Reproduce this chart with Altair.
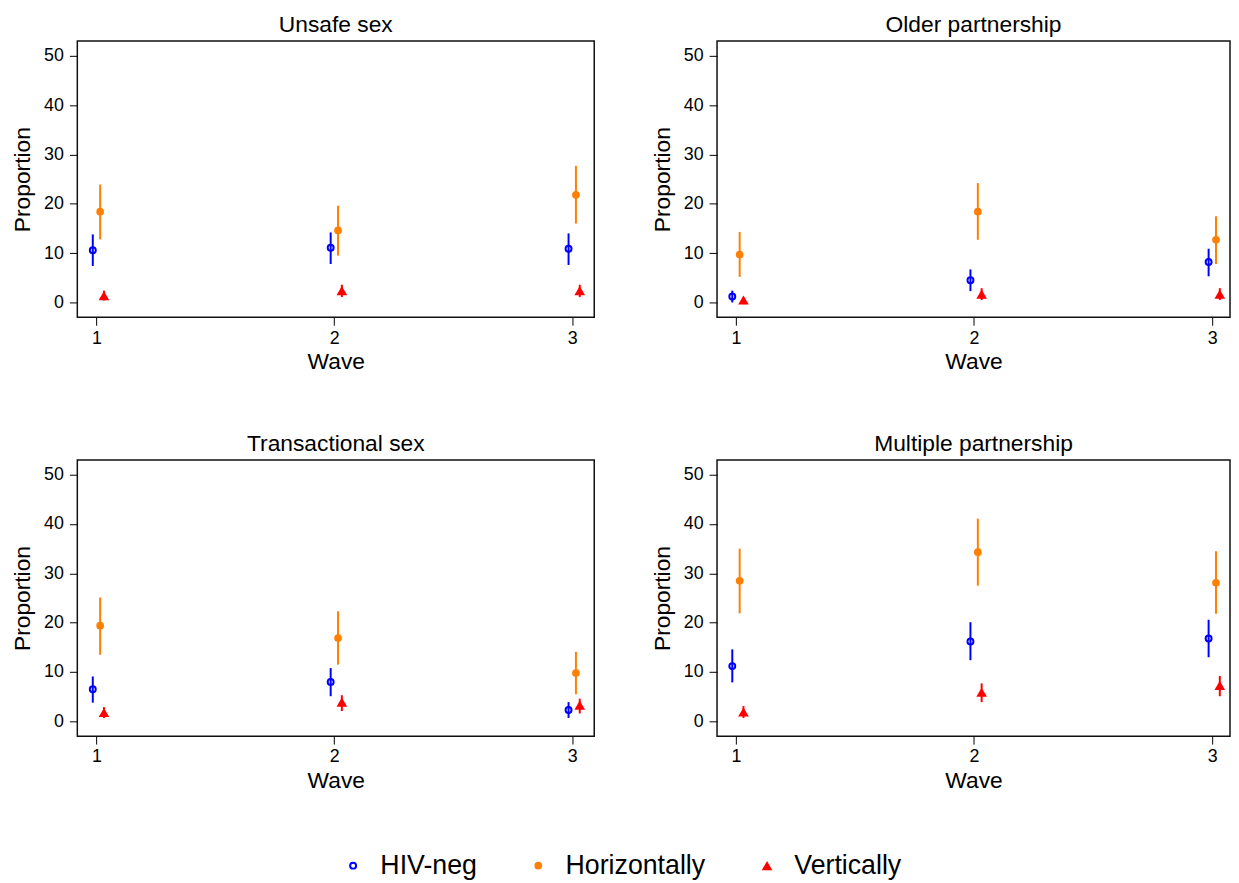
import altair as alt
import pandas as pd

panels = ["Unsafe sex", "Older partnership", "Transactional sex", "Multiple partnership"]
groups = ["HIV-neg", "Horizontally", "Vertically"]
waves = [1, 2, 3]

# Unsafe sex
unsafe_hiv_est = [10.6, 11.1, 10.9]
unsafe_hiv_lo = [7.4, 7.8, 7.6]
unsafe_hiv_hi = [13.8, 14.2, 14.0]
unsafe_hor_est = [18.4, 14.6, 21.8]
unsafe_hor_lo = [12.8, 9.5, 16.0]
unsafe_hor_hi = [23.9, 19.6, 27.7]
unsafe_ver_est = [1.4, 2.4, 2.4]
unsafe_ver_lo = [0.4, 1.1, 1.1]
unsafe_ver_hi = [2.4, 3.6, 3.6]

# Older partnership
older_hiv_est = [1.2, 4.5, 8.2]
older_hiv_lo = [0.0, 2.3, 5.3]
older_hiv_hi = [2.4, 6.7, 10.9]
older_hor_est = [9.7, 18.4, 12.7]
older_hor_lo = [5.2, 12.7, 7.8]
older_hor_hi = [14.3, 24.2, 17.5]
older_ver_est = [0.5, 1.7, 1.7]
older_ver_lo = [0.1, 0.5, 0.5]
older_ver_hi = [1.0, 2.9, 2.9]

# Transactional sex
trans_hiv_est = [6.5, 8.0, 2.3]
trans_hiv_lo = [3.8, 5.1, 0.7]
trans_hiv_hi = [9.1, 10.8, 3.9]
trans_hor_est = [19.4, 16.9, 9.8]
trans_hor_lo = [13.5, 11.5, 5.5]
trans_hor_hi = [25.1, 22.3, 14.1]
trans_ver_est = [1.8, 3.9, 3.3]
trans_ver_lo = [0.7, 2.1, 1.6]
trans_ver_hi = [2.9, 5.3, 4.6]

# Multiple partnership
multi_hiv_est = [11.2, 16.2, 16.8]
multi_hiv_lo = [7.9, 12.4, 13.0]
multi_hiv_hi = [14.6, 20.1, 20.6]
multi_hor_est = [28.5, 34.3, 28.1]
multi_hor_lo = [21.9, 27.5, 21.8]
multi_hor_hi = [35.0, 41.1, 34.5]
multi_ver_est = [1.9, 5.9, 7.3]
multi_ver_lo = [0.7, 3.9, 5.1]
multi_ver_hi = [3.1, 7.7, 9.2]

series = {
    "Unsafe sex": [
        (unsafe_hiv_est, unsafe_hiv_lo, unsafe_hiv_hi),
        (unsafe_hor_est, unsafe_hor_lo, unsafe_hor_hi),
        (unsafe_ver_est, unsafe_ver_lo, unsafe_ver_hi),
    ],
    "Older partnership": [
        (older_hiv_est, older_hiv_lo, older_hiv_hi),
        (older_hor_est, older_hor_lo, older_hor_hi),
        (older_ver_est, older_ver_lo, older_ver_hi),
    ],
    "Transactional sex": [
        (trans_hiv_est, trans_hiv_lo, trans_hiv_hi),
        (trans_hor_est, trans_hor_lo, trans_hor_hi),
        (trans_ver_est, trans_ver_lo, trans_ver_hi),
    ],
    "Multiple partnership": [
        (multi_hiv_est, multi_hiv_lo, multi_hiv_hi),
        (multi_hor_est, multi_hor_lo, multi_hor_hi),
        (multi_ver_est, multi_ver_lo, multi_ver_hi),
    ],
}

rows = []
for p in panels:
    for g, (est, lo, hi) in zip(groups, series[p]):
        for i, w in enumerate(waves):
            rows.append({"panel": p, "group": g, "wave": w,
                         "est": est[i], "lo": lo[i], "hi": hi[i]})
df = pd.DataFrame(rows)

colors = ["#0000ff", "#ff7f00", "#ff0000"]
fills = ["transparent", "#ff7f00", "#ff0000"]
shapes = ["circle", "circle", "triangle-up"]
FONT = "Liberation Sans"

legend = alt.Legend(orient="none", legendX=265, legendY=819, direction="horizontal", title=None)


def panel(name, width, xdom):
    base = alt.Chart(df).transform_filter(alt.datum.panel == name).transform_calculate(
        xpos="datum.wave + (datum.group == 'HIV-neg' ? -0.015 : (datum.group == 'Horizontally' ? 0.016 : 0.032))"
    )
    xenc = alt.X("xpos:Q", scale=alt.Scale(domain=xdom, nice=False, zero=False),
                 axis=alt.Axis(values=waves, format="d", title="Wave", titlePadding=4))
    yscale = alt.Scale(domain=[-3, 53], nice=False, zero=False)
    yaxis = alt.Axis(values=[0, 10, 20, 30, 40, 50], title="Proportion",
                     labelPadding=6, titlePadding=9)
    rules = base.mark_rule(strokeWidth=2).encode(
        x=xenc,
        y=alt.Y("lo:Q", scale=yscale, axis=yaxis),
        y2="hi:Q",
        stroke=alt.Stroke("group:N", scale=alt.Scale(domain=groups, range=colors), legend=legend),
    )
    points = base.mark_point(opacity=1).encode(
        x=xenc,
        y=alt.Y("est:Q", scale=yscale, axis=yaxis),
        stroke=alt.Stroke("group:N", scale=alt.Scale(domain=groups, range=colors), legend=legend),
        fill=alt.Fill("group:N", scale=alt.Scale(domain=groups, range=fills), legend=legend),
        shape=alt.Shape("group:N", scale=alt.Scale(domain=groups, range=shapes), legend=legend),
        size=alt.Size("group:N", scale=alt.Scale(type="ordinal", domain=groups, range=[36, 60, 115]),
                      legend=None),
        strokeWidth=alt.StrokeWidth("group:N", scale=alt.Scale(type="ordinal", domain=groups, range=[2, 0, 0]),
                                    legend=None),
    )
    return alt.layer(rules, points).properties(
        width=width, height=279,
        title=alt.TitleParams(name, fontSize=23, fontWeight="normal", font=FONT, color="black", offset=4),
    )


left_dom = [0.92, 3.093]
right_w = 518
right_dom = [0.921, 0.921 + right_w / 240.5]

top = alt.hconcat(panel(panels[0], 522, left_dom), panel(panels[1], right_w, right_dom), spacing=56)
bottom = alt.hconcat(panel(panels[2], 522, left_dom), panel(panels[3], right_w, right_dom), spacing=56)

chart = alt.vconcat(top, bottom, spacing=58).properties(
    padding={"left": 3, "top": 1, "right": 0, "bottom": 5},
    background="white",
).configure_view(
    stroke="#111111", strokeWidth=1.5
).configure_axis(
    grid=False, domain=False, tickColor="black", tickSize=8, tickWidth=1,
    labelFont=FONT, labelFontSize=18, labelColor="black", labelPadding=4,
    titleFont=FONT, titleFontSize=23, titleFontWeight="normal", titleColor="black",
    titlePadding=6,
).configure_legend(
    labelFont=FONT, labelFontSize=27, labelColor="black", symbolSize=110,
    symbolStrokeWidth=2.5, columnPadding=48, labelOffset=14,
)

chart.save("out.html", embed_options={"renderer": "svg", "actions": False})
